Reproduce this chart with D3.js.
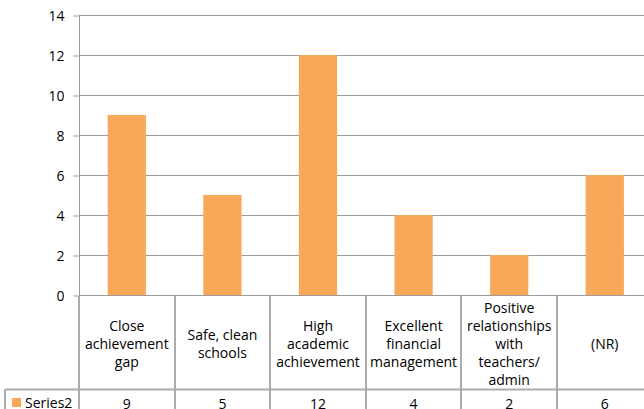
<!DOCTYPE html>
<html>
<head>
<meta charset="utf-8">
<script src="https://cdn.jsdelivr.net/npm/d3@7"></script>
<style>
html,body{margin:0;padding:0;background:#fff;}
svg{display:block;}
text{font-family:"Open Sans",sans-serif;fill:#000;}
</style>
</head>
<body>
<svg id="chart" width="644" height="409"></svg>
<script>
const categories = [
  ["Close","achievement","gap"],
  ["Safe, clean","schools"],
  ["High","academic","achievement"],
  ["Excellent","financial","management"],
  ["Positive","relationships","with","teachers/","admin"],
  ["(NR)"]
];
const seriesName = "Series2";
const values = [9, 5, 12, 4, 2, 6];
const yTicks = [0, 2, 4, 6, 8, 10, 12, 14];

(function(){
const svg = d3.select("#chart");
const pLeft = 79, pRight = 652.6, pTop = 15, pBottom = 295;
const tableBottom = 409, rowLine = 389.5;
const barColor = "#F9A859";
const gridColor = "#9C9C9C";
const tableColor = "#ABABAB";

const keys = categories.map((c,i)=>i);
const x = d3.scaleBand().domain(keys).range([pLeft, pRight]).paddingInner(0).paddingOuter(0);
const y = d3.scaleLinear().domain([0,14]).range([pBottom, pTop]);

// gridlines
svg.append("g").selectAll("line").data(yTicks).join("line")
  .attr("x1", pLeft).attr("x2", pRight)
  .attr("y1", d=>Math.round(y(d))+0.5).attr("y2", d=>Math.round(y(d))+0.5)
  .attr("stroke", gridColor).attr("stroke-width", 1);

// y axis
const yAxis = d3.axisLeft(y).tickValues(yTicks).tickSize(6).tickPadding(9).tickFormat(d3.format("d"));
const gy = svg.append("g").attr("transform", `translate(${pLeft+0.5},0.5)`).call(yAxis);
gy.select(".domain").attr("stroke", gridColor).attr("d", `M0,${pTop}V${pBottom}`);
gy.selectAll(".tick line").attr("stroke", gridColor);
gy.selectAll(".tick text").style("font-size","14px").attr("dy","0.36em");

// bars
const bw = x.bandwidth()*0.4;
svg.append("g").selectAll("rect").data(values).join("rect")
  .attr("x", (d,i)=>x(i) + (x.bandwidth()-bw)/2)
  .attr("width", bw)
  .attr("y", d=>y(d))
  .attr("height", d=>y(0)-y(d))
  .attr("fill", barColor);

// table lines
const tg = svg.append("g");
tg.selectAll("line.v").data(keys).join("line").attr("class","v")
  .attr("x1", d=>Math.round(x(d))).attr("x2", d=>Math.round(x(d)))
  .attr("y1", pBottom+1).attr("y2", tableBottom)
  .attr("stroke", tableColor).attr("stroke-width", 2);
tg.append("line").attr("x1", 5).attr("x2", pRight).attr("y1", rowLine).attr("y2", rowLine)
  .attr("stroke", tableColor).attr("stroke-width", 2);
tg.append("line").attr("x1", 5).attr("x2", 5).attr("y1", rowLine).attr("y2", tableBottom)
  .attr("stroke", tableColor).attr("stroke-width", 2);

// category labels
const lineH = 18, labelCenter = 343.7;
const lab = svg.append("g").selectAll("text").data(categories).join("text")
  .attr("text-anchor","middle").style("font-size","14px");
lab.each(function(lines, i){
  const t = d3.select(this);
  const cx = x(i) + x.bandwidth()/2;
  const first = labelCenter - (lines.length-1)*lineH/2;
  lines.forEach((l,j)=>{
    t.append("tspan").attr("x", cx).attr("y", first + j*lineH).attr("dy","0.35em").text(l);
  });
});

// series row
svg.append("rect").attr("x", 12).attr("y", 398).attr("width", 9).attr("height", 9).attr("fill", barColor);
svg.append("text").attr("x", 25).attr("y", 408).style("font-size","14px").text(seriesName);
svg.append("g").selectAll("text").data(values).join("text")
  .attr("x", (d,i)=>x(i)+x.bandwidth()/2).attr("y", 408.5)
  .attr("text-anchor","middle").style("font-size","14px")
  .text(d=>d);
})();
</script>
</body>
</html>
